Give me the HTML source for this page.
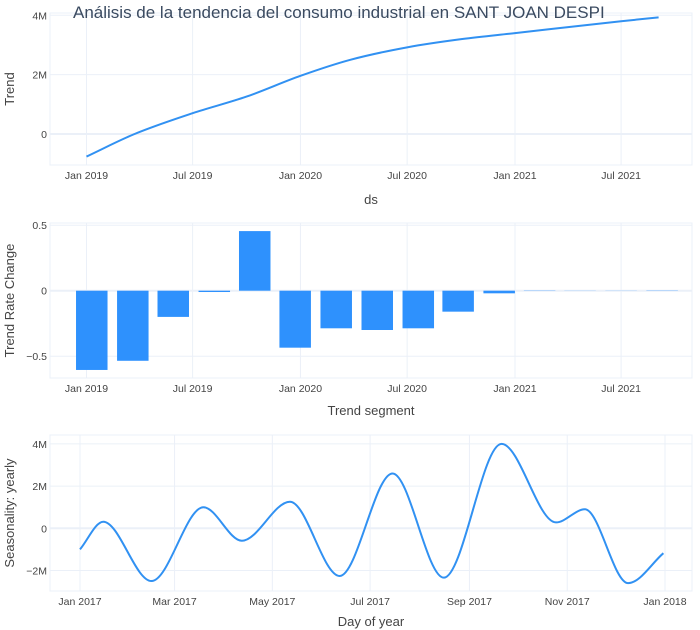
<!DOCTYPE html>
<html><head><meta charset="utf-8">
<style>
html,body{margin:0;padding:0;background:#fff;}
svg{display:block;font-family:"Liberation Sans",sans-serif;}
.tick{font-size:10.5px;fill:#444;}
.atitle{font-size:13px;fill:#444;}
</style></head>
<body>
<svg id="chart" width="700" height="630">
</svg>
<script>
// ---- Trend panel data ----
const trendDates = ["2019-01-01","2019-03-24","2019-07-01","2019-10-01","2020-01-01","2020-03-26","2020-07-01","2020-10-03","2021-01-01","2021-07-01","2021-09-03"];
const trendValues = [-0.76,0.0,0.70,1.26,1.96,2.5,2.92,3.2,3.40,3.80,3.93]; // millions
const trendYTicks = [0,2,4];
const trendYTickLabels = ["0","2M","4M"];
const dateTicks = ["2019-01-01","2019-07-01","2020-01-01","2020-07-01","2021-01-01","2021-07-01"];
const dateTickLabels = ["Jan 2019","Jul 2019","Jan 2020","Jul 2020","Jan 2021","Jul 2021"];
// ---- Trend rate change panel ----
const segDates = ["2019-01-10","2019-03-21","2019-05-29","2019-08-07","2019-10-15","2019-12-23","2020-03-02","2020-05-11","2020-07-20","2020-09-26","2020-12-05","2021-02-12","2021-04-22","2021-07-01","2021-09-09"];
const segValues = [-0.605,-0.535,-0.20,-0.01,0.455,-0.435,-0.287,-0.30,-0.287,-0.16,-0.02,-0.002,-0.001,-0.001,-0.002];
const rateTicks = [-0.5,0,0.5];
const rateTickLabels = ["−0.5","0","0.5"];
// ---- Yearly seasonality ----
const seasDays = [0,14.5,44.6,77,101,131,162,195,227,263,297,315,342,364];
const seasValues = [-1.0,0.31,-2.5,1.0,-0.59,1.26,-2.26,2.6,-2.34,4.0,0.28,0.9,-2.6,-1.18];
const seasTicks = [-2,0,2,4];
const seasTickLabels = ["−2M","0","2M","4M"];
const seasXTicks = ["2017-01-01","2017-03-01","2017-05-01","2017-07-01","2017-09-01","2017-11-01","2018-01-01"];
const seasXTickLabels = ["Jan 2017","Mar 2017","May 2017","Jul 2017","Sep 2017","Nov 2017","Jan 2018"];

const NS="http://www.w3.org/2000/svg";
const svg=document.getElementById('chart');
function mk(tag,attrs,parent){const e=document.createElementNS(NS,tag);for(const k in attrs)e.setAttribute(k,attrs[k]);(parent||svg).appendChild(e);return e;}
function day(s){return Date.parse(s+"T00:00:00Z")/86400000;}
function lin(d0,d1,r0,r1){return v=>r0+(v-d0)*(r1-r0)/(d1-d0);}
const L=50,R=692;
function monotonePath(xs,ys){
  const n=xs.length,d=[],m=[];
  for(let i=0;i<n-1;i++)d.push((ys[i+1]-ys[i])/(xs[i+1]-xs[i]));
  for(let i=0;i<n;i++){
    if(i===0)m.push(d[0]);else if(i===n-1)m.push(d[n-2]);
    else m.push(d[i-1]*d[i]<=0?0:(d[i-1]+d[i])/2);
  }
  for(let i=0;i<n-1;i++){
    if(d[i]===0){m[i]=m[i+1]=0;continue;}
    const a=m[i]/d[i],b=m[i+1]/d[i],s=a*a+b*b;
    if(s>9){const t=3/Math.sqrt(s);m[i]=t*a*d[i];m[i+1]=t*b*d[i];}
  }
  let p="M"+xs[0]+","+ys[0];
  for(let i=0;i<n-1;i++){const h=(xs[i+1]-xs[i])/3;
    p+=" C"+(xs[i]+h)+","+(ys[i]+m[i]*h)+" "+(xs[i+1]-h)+","+(ys[i+1]-m[i+1]*h)+" "+xs[i+1]+","+ys[i+1];}
  return p;
}
function panel(name,top,bottom,yScale,yT,yTL,xScale,xT,xTL,xTitle,yTitle,xTitleY){
  const g=mk('g',{});
  
  
  xT.forEach((t,i)=>{const x=xScale(t);
    const ln=mk('line',{x1:x,x2:x,y1:top,y2:bottom,stroke:'#ebf0f8','stroke-width':1},g);
    
    const tx=mk('text',{x:x,y:bottom+14,'text-anchor':'middle',class:'tick'},g);tx.textContent=xTL[i];
    });
  yT.forEach((t,i)=>{const y=yScale(t);
    const ln=mk('line',{x1:L,x2:R,y1:y,y2:y,stroke:'#ebf0f8','stroke-width':t===0?2:1},g);
    
    const tx=mk('text',{x:L-3,y:y+4,'text-anchor':'end',class:'tick'},g);tx.textContent=yTL[i];
    });
  const fr=mk('rect',{x:L,y:top,width:R-L,height:bottom-top,fill:'none',stroke:'#ebf0f8','stroke-width':1},g);
  
  const xt=mk('text',{x:(L+R)/2,y:xTitleY,'text-anchor':'middle',class:'atitle'},g);xt.textContent=xTitle;
  
  const cy=(top+bottom)/2;
  const yt=mk('text',{x:14,y:cy,'text-anchor':'middle',class:'atitle',transform:'rotate(-90 14 '+cy+')'},g);yt.textContent=yTitle;
  
  return g;
}
// Panel 1
const d19=day("2019-01-01");
const xDate=lin(d19,d19+731,86.5,515);
const xS=s=>xDate(day(s));
const y1=lin(0,4,134,15.3);
const g1=panel('trend',13,165,y1,trendYTicks,trendYTickLabels,xS,dateTicks,dateTickLabels,'ds','Trend',204);
const tp=mk('path',{d:monotonePath(trendDates.map(xS),trendValues.map(y1)),fill:'none',stroke:'#3191f2','stroke-width':2},g1);

// Panel 2
const y2=lin(0,0.5,290.7,225.2);
const g2=panel('trend-rate-change',223,378,y2,rateTicks,rateTickLabels,xS,dateTicks,dateTickLabels,'Trend segment','Trend Rate Change',415);
const bw=31.5;
segDates.forEach((s,i)=>{const x=xS(s),v=segValues[i],ya=y2(Math.max(v,0)),yb=y2(Math.min(v,0));
  const b=mk('rect',{x:x-bw/2,y:ya,width:bw,height:Math.max(yb-ya,0),fill:'#2e91fd'},g2);
  });
// Panel 3
const d17=day("2017-01-01");
const x3d=lin(0,365,80,665);
const x3S=s=>x3d(day(s)-d17);
const y3=lin(0,2,528.3,486.1);
const g3=panel('seasonality-yearly',435,591,y3,seasTicks,seasTickLabels,x3S,seasXTicks,seasXTickLabels,'Day of year','Seasonality: yearly',626);
const sp=mk('path',{d:monotonePath(seasDays.map(x3d),seasValues.map(y3)),fill:'none',stroke:'#3191f2','stroke-width':2},g3);

// Title on top
const title=mk('text',{x:73,y:18,'font-size':17,fill:'#3a4a60'});
title.textContent='Análisis de la tendencia del consumo industrial en SANT JOAN DESPI';


</script>
</body></html>
